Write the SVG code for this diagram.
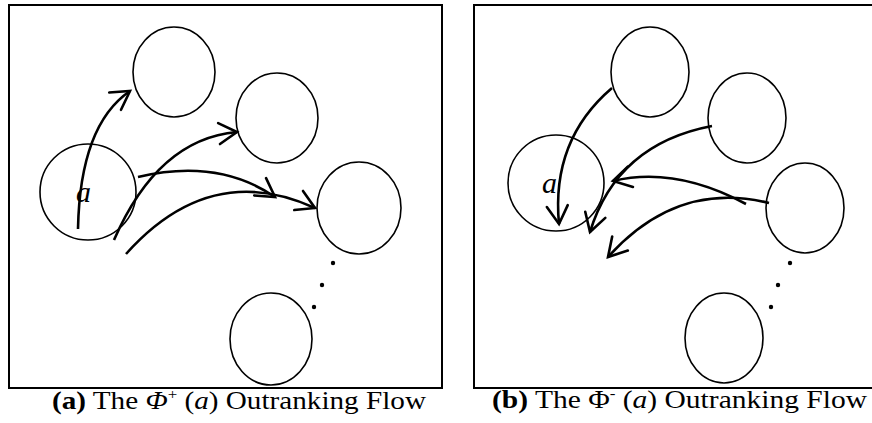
<svg xmlns="http://www.w3.org/2000/svg" width="872" height="423" viewBox="0 0 872 423">
<style>
.frame{fill:#fff;stroke:#000;stroke-width:2}
.node{fill:#fff;stroke:#000;stroke-width:1.6}
.edge{fill:none;stroke:#000;stroke-width:2.6}
.lbl{font-family:"Liberation Serif","Times New Roman",serif;font-style:italic;font-size:30px;fill:#000}
.cap{font-family:"Liberation Serif","Times New Roman",serif;font-size:26px;fill:#000}
.dot{fill:#000}
</style>
<defs>
<marker id="arr" markerUnits="userSpaceOnUse" markerWidth="30" markerHeight="30" viewBox="-20 -15 30 30" refX="0" refY="0" orient="auto" overflow="visible">
<path d="M-18,-10.5 L0,0 L-18,10.5" fill="none" stroke="#000" stroke-width="2.6" stroke-linecap="round" stroke-linejoin="miter"/>
</marker>
</defs>
<rect width="872" height="423" fill="#fff"/>
<g id="panel-a">
<rect class="frame" x="9" y="5" width="433" height="383"/>
<g id="a-node-a"><ellipse class="node" cx="88" cy="192" rx="48" ry="48"/><text class="lbl" x="76" y="202">a</text></g>
<g id="a-node-1"><ellipse class="node" cx="174" cy="72" rx="41" ry="45"/></g>
<g id="a-node-2"><ellipse class="node" cx="277" cy="118" rx="41" ry="45"/></g>
<g id="a-node-3"><ellipse class="node" cx="359" cy="208" rx="42" ry="46"/></g>
<g id="a-node-4"><ellipse class="node" cx="271" cy="339" rx="41" ry="46"/></g>
<g id="a-dots"><circle class="dot" cx="333" cy="263" r="2.2"/><circle class="dot" cx="322" cy="285" r="2.2"/><circle class="dot" cx="314" cy="307" r="2.2"/></g>
<g id="a-connectors">
<path class="edge" d="M78,229 Q80,125 130,91" marker-end="url(#arr)"/>
<path class="edge" d="M114,240 Q158,139 237,132" marker-end="url(#arr)"/>
<path class="edge" d="M138,177 Q218,158 275,197" marker-end="url(#arr)"/>
<path class="edge" d="M126,254 Q210,160 315,208" marker-end="url(#arr)"/>
</g>
<text id="caption-a" class="cap" x="52" y="409" textLength="374" lengthAdjust="spacingAndGlyphs"><tspan font-weight="bold">(a)</tspan> The <tspan font-style="italic">Φ</tspan><tspan font-size="15" dy="-10">+</tspan><tspan dy="10"> (</tspan><tspan font-style="italic">a</tspan>) Outranking Flow</text>
</g>
<g id="panel-b">
<rect class="frame" x="474" y="5" width="420" height="383"/>
<g id="b-node-a"><ellipse class="node" cx="556" cy="183" rx="48" ry="48"/><text class="lbl" x="542" y="193">a</text></g>
<g id="b-node-1"><ellipse class="node" cx="650" cy="72" rx="39" ry="45"/></g>
<g id="b-node-2"><ellipse class="node" cx="747" cy="118" rx="39" ry="45"/></g>
<g id="b-node-3"><ellipse class="node" cx="805" cy="208" rx="39" ry="45"/></g>
<g id="b-node-4"><ellipse class="node" cx="724" cy="338" rx="39" ry="45"/></g>
<g id="b-dots"><circle class="dot" cx="790" cy="263" r="2.2"/><circle class="dot" cx="778" cy="285" r="2.2"/><circle class="dot" cx="771" cy="307" r="2.2"/></g>
<g id="b-connectors">
<path class="edge" d="M612,88 Q551,140 559,224" marker-end="url(#arr)"/>
<path class="edge" d="M712,126 Q617,144 590,232" marker-end="url(#arr)"/>
<path class="edge" d="M746,204 Q675,166 613,181" marker-end="url(#arr)"/>
<path class="edge" d="M769,203 Q677,180 608,257" marker-end="url(#arr)"/>
</g>
<text id="caption-b" class="cap" x="492" y="408" textLength="375" lengthAdjust="spacingAndGlyphs"><tspan font-weight="bold">(b)</tspan> The Φ<tspan font-size="15" dy="-10">-</tspan><tspan dy="10"> (</tspan><tspan font-style="italic">a</tspan>) Outranking Flow</text>
</g>
</svg>
